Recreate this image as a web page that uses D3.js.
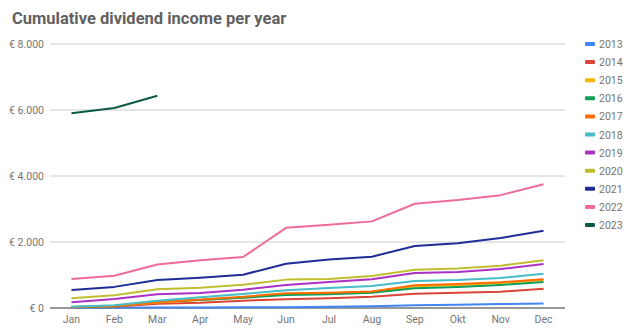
<!DOCTYPE html>
<html>
<head>
<meta charset="utf-8">
<script src="https://cdn.jsdelivr.net/npm/d3@7"></script>
<style>
  body { margin: 0; background: #fff; }
  svg { display: block; font-family: Roboto, sans-serif; }
</style>
</head>
<body>
<svg id="chart" width="638" height="336"></svg>
<script>
// months on the x axis
const months = ['Jan', 'Feb', 'Mar', 'Apr', 'May', 'Jun', 'Jul', 'Aug', 'Sep', 'Okt', 'Nov', 'Dec'];
const years = ['2013', '2014', '2015', '2016', '2017', '2018', '2019', '2020', '2021', '2022', '2023'];
const yTicks = [0, 2000, 4000, 6000, 8000];

// cumulative income per year (euro)
const y2013 = [5, 8, 12, 15, 20, 25, 35, 50, 80, 100, 120, 140];
const y2014 = [20, 40, 130, 160, 220, 265, 295, 340, 430, 460, 495, 580];
const y2015 = [25, 50, 165, 240, 320, 420, 450, 490, 660, 700, 760, 850];
const y2016 = [30, 50, 200, 240, 310, 395, 420, 460, 600, 640, 700, 785];
const y2017 = [30, 60, 175, 260, 340, 450, 465, 500, 690, 725, 780, 870];
const y2018 = [40, 80, 220, 325, 425, 540, 605, 665, 820, 850, 910, 1040];
const y2019 = [172, 272, 415, 455, 555, 700, 790, 870, 1060, 1090, 1180, 1330];
const y2020 = [293, 385, 565, 615, 705, 860, 880, 970, 1160, 1200, 1280, 1445];
const y2021 = [545, 640, 850, 920, 1010, 1340, 1470, 1555, 1880, 1960, 2120, 2340];
const y2022 = [880, 980, 1320, 1450, 1545, 2430, 2520, 2625, 3160, 3270, 3420, 3750];
const y2023 = [5900, 6060, 6430];

const seriesValues = [y2013, y2014, y2015, y2016, y2017, y2018, y2019, y2020, y2021, y2022, y2023];
const colors = ['#4285f4', '#db4437', '#f4b400', '#0f9d58', '#ff6d01', '#46bdc6',
                '#ab30c4', '#c0be2e', '#1f2c95', '#ee6b9c', '#0b5a45'];

const svg = d3.select('#chart');

const x = d3.scalePoint().domain(months).range([50, 565]).padding(0.5);
const y = d3.scaleLinear().domain([0, 8000]).range([308, 44]);

// title
svg.append('text')
  .attr('x', 12)
  .attr('y', 24)
  .attr('font-size', 16.5)
  .attr('font-weight', 'bold')
  .attr('fill', '#616161')
  .text('Cumulative dividend income per year');

// gridlines + y labels
const fmt = (v) => '€ ' + d3.format(',')(v).replace(/,/g, '.');
const yAxis = svg.append('g');
yAxis.selectAll('line')
  .data(yTicks.filter((d) => d > 0))
  .enter()
  .append('line')
  .attr('x1', 50).attr('x2', 565)
  .attr('y1', (d) => y(d)).attr('y2', (d) => y(d))
  .attr('stroke', '#cccccc')
  .attr('stroke-width', 1);

yAxis.selectAll('text')
  .data(yTicks)
  .enter()
  .append('text')
  .attr('x', 44)
  .attr('y', (d) => y(d) + 4)
  .attr('text-anchor', 'end')
  .attr('font-size', 10.5)
  .attr('fill', '#757575')
  .text(fmt);

// x labels
svg.append('g')
  .selectAll('text')
  .data(months)
  .enter()
  .append('text')
  .attr('x', (d) => x(d))
  .attr('y', 323)
  .attr('text-anchor', 'middle')
  .attr('font-size', 10.5)
  .attr('fill', '#757575')
  .text((d) => d);

// baseline
svg.append('line')
  .attr('x1', 50).attr('x2', 565)
  .attr('y1', y(0)).attr('y2', y(0))
  .attr('stroke', '#333')
  .attr('stroke-width', 1);

// lines
const line = d3.line()
  .x((d, i) => x(months[i]))
  .y((d) => y(d));

svg.append('g')
  .selectAll('path')
  .data(seriesValues)
  .enter()
  .append('path')
  .attr('d', (d) => line(d))
  .attr('fill', 'none')
  .attr('stroke', (d, i) => colors[i])
  .attr('stroke-width', 2)
  .attr('stroke-linejoin', 'round');

// legend
const legend = svg.append('g')
  .selectAll('g')
  .data(years)
  .enter()
  .append('g')
  .attr('transform', (d, i) => `translate(585, ${44 + i * 18.1})`);

legend.append('rect')
  .attr('x', 0).attr('y', -2)
  .attr('width', 10).attr('height', 4)
  .attr('rx', 1)
  .attr('fill', (d, i) => colors[i]);

legend.append('text')
  .attr('x', 14)
  .attr('y', 4)
  .attr('font-size', 10.5)
  .attr('fill', '#757575')
  .text((d) => d);
</script>
</body>
</html>
